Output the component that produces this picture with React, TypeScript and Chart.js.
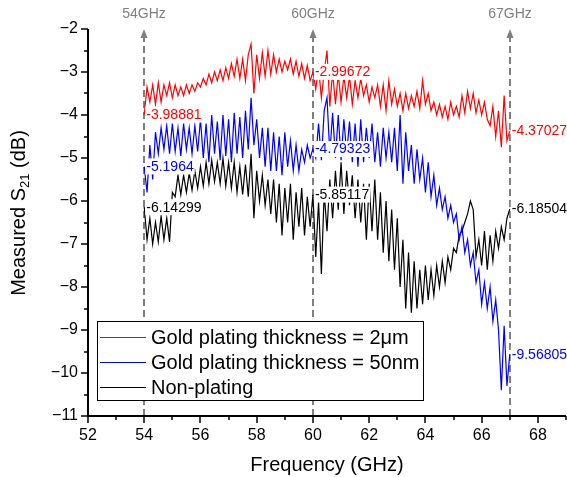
import React, { useEffect, useRef } from 'react';
import { Chart, registerables } from 'chart.js';

Chart.register(...registerables);

const FONT = "Arial, 'Liberation Sans', sans-serif";
const GRAY = '#7f7f7f';

const FREQ_GHZ = [
  54.0, 54.1, 54.2, 54.3, 54.4, 54.5, 54.6, 54.7, 54.8, 54.9,
  55.0, 55.1, 55.2, 55.3, 55.4, 55.5, 55.6, 55.7, 55.8, 55.9,
  56.0, 56.1, 56.2, 56.3, 56.4, 56.5, 56.6, 56.7, 56.8, 56.9,
  57.0, 57.1, 57.2, 57.3, 57.4, 57.5, 57.6, 57.7, 57.8, 57.9,
  58.0, 58.1, 58.2, 58.3, 58.4, 58.5, 58.6, 58.7, 58.8, 58.9,
  59.0, 59.1, 59.2, 59.3, 59.4, 59.5, 59.6, 59.7, 59.8, 59.9,
  60.0, 60.1, 60.2, 60.3, 60.4, 60.5, 60.6, 60.7, 60.8, 60.9,
  61.0, 61.1, 61.2, 61.3, 61.4, 61.5, 61.6, 61.7, 61.8, 61.9,
  62.0, 62.1, 62.2, 62.3, 62.4, 62.5, 62.6, 62.7, 62.8, 62.9,
  63.0, 63.1, 63.2, 63.3, 63.4, 63.5, 63.6, 63.7, 63.8, 63.9,
  64.0, 64.1, 64.2, 64.3, 64.4, 64.5, 64.6, 64.7, 64.8, 64.9,
  65.0, 65.1, 65.2, 65.3, 65.4, 65.5, 65.6, 65.7, 65.8, 65.9,
  66.0, 66.1, 66.2, 66.3, 66.4, 66.5, 66.6, 66.7, 66.8, 66.9,
  67.0,
];

const S21_GOLD_2UM = [
  -3.99, -3.35, -3.70, -3.30, -3.75, -3.25, -3.70, -3.30, -3.55, -3.25,
  -3.60, -3.30, -3.55, -3.35, -3.55, -3.30, -3.50, -3.30, -3.45, -3.25,
  -3.35, -3.15, -3.30, -3.05, -3.25, -3.00, -3.20, -2.95, -3.20, -2.90,
  -3.15, -2.80, -3.10, -2.70, -3.15, -2.70, -3.20, -2.60, -2.35, -3.50,
  -2.60, -3.15, -2.55, -3.10, -2.50, -3.05, -2.60, -3.00, -2.70, -3.00,
  -2.75, -2.95, -2.70, -3.05, -2.75, -3.10, -2.80, -3.15, -2.85, -3.20,
  -3.00, -3.40, -2.90, -3.60, -3.00, -2.50, -3.80, -3.00, -3.75, -3.05,
  -3.70, -3.10, -3.60, -3.10, -3.75, -3.20, -3.60, -3.15, -3.55, -3.30,
  -3.70, -3.35, -3.60, -3.30, -3.80, -3.30, -3.90, -3.20, -3.75, -3.40,
  -3.80, -3.50, -3.90, -3.50, -3.85, -3.55, -3.80, -3.45, -3.85, -3.20,
  -3.75, -3.50, -3.90, -3.70, -4.00, -3.75, -4.05, -3.80, -4.10, -3.70,
  -4.00, -3.80, -4.05, -3.55, -3.95, -3.45, -3.85, -3.50, -3.95, -3.65,
  -4.00, -3.70, -4.10, -4.25, -3.80, -4.50, -3.90, -4.75, -3.55, -4.60,
  -4.37,
];

const S21_GOLD_50NM = [
  -5.20, -5.80, -4.70, -5.50, -4.40, -4.90, -4.30, -4.80, -4.25, -4.90,
  -4.20, -4.85, -4.30, -4.95, -4.20, -4.80, -4.30, -4.90, -4.25, -4.85,
  -4.10, -5.00, -4.20, -5.10, -4.00, -4.90, -4.15, -5.05, -4.00, -4.95,
  -4.10, -5.10, -3.95, -4.90, -4.05, -5.00, -3.90, -4.80, -3.60, -4.70,
  -4.10, -5.00, -4.30, -5.20, -4.30, -5.30, -4.40, -5.30, -4.50, -5.40,
  -4.40, -5.20, -4.60, -5.30, -4.70, -5.30, -4.80, -5.10, -4.70, -5.00,
  -4.79, -5.00, -4.20, -5.05, -3.90, -3.60, -4.90, -3.95, -5.00, -4.00,
  -5.05, -4.10, -4.90, -4.15, -5.10, -4.20, -5.20, -4.10, -5.10, -4.30,
  -5.00, -4.20, -5.10, -4.40, -5.20, -4.30, -5.00, -4.40, -5.10, -4.30,
  -5.30, -4.00, -5.60, -4.40, -5.30, -4.70, -5.60, -4.80, -5.50, -5.00,
  -5.80, -5.10, -5.90, -5.40, -6.10, -5.70, -6.20, -5.90, -6.40, -6.10,
  -6.50, -6.30, -6.90, -6.60, -7.20, -6.90, -7.50, -7.20, -7.90, -7.60,
  -8.40, -7.90, -8.50, -8.00, -8.80, -8.30, -9.00, -10.40, -8.90, -10.30,
  -9.57,
];

const S21_NON_PLATING = [
  -6.14, -6.90, -6.40, -7.00, -6.50, -6.95, -6.35, -6.90, -6.40, -6.95,
  -5.80, -5.90, -5.40, -5.85, -5.40, -5.80, -5.35, -5.75, -5.30, -5.70,
  -5.20, -5.65, -5.10, -5.60, -5.05, -5.55, -5.10, -5.60, -5.00, -5.65,
  -5.10, -5.70, -5.10, -5.80, -5.20, -5.85, -5.15, -5.90, -4.90, -6.40,
  -5.30, -6.00, -5.40, -6.10, -5.50, -6.30, -5.50, -6.50, -5.60, -6.80,
  -5.70, -6.50, -5.60, -6.90, -5.80, -6.60, -5.70, -6.80, -5.90, -6.60,
  -5.85, -7.30, -6.00, -7.70, -5.80, -6.70, -5.50, -6.40, -5.30, -6.20,
  -5.10, -6.30, -5.30, -6.10, -5.40, -6.40, -5.50, -6.50, -5.60, -6.90,
  -5.60, -6.70, -5.50, -6.90, -5.80, -7.20, -6.00, -7.40, -6.20, -7.60,
  -6.40, -8.00, -6.90, -8.50, -7.20, -8.60, -7.40, -8.50, -7.60, -8.40,
  -7.50, -8.30, -7.60, -8.20, -7.50, -8.00, -7.40, -7.90, -7.30, -7.60,
  -7.10, -7.20, -6.80, -6.70, -6.50, -6.30, -6.00, -6.20, -7.30, -6.90,
  -7.50, -6.70, -7.60, -6.80, -7.40, -6.70, -7.10, -6.60, -6.90, -6.40,
  -6.19,
];

const SERIES_NAMES = [
  'Gold plating thickness = 2\u03bcm',
  'Gold plating thickness = 50nm',
  'Non-plating',
];
const SERIES_COLORS = ['#ff0000', '#0000ff', '#000000'];

const MARKER_FREQS = [54, 60, 67];
const MARKER_LABELS = ['54GHz', '60GHz', '67GHz'];
const READ_GOLD_2UM = [-3.98881, -2.99672, -4.37027];
const READ_GOLD_50NM = [-5.1964, -4.79323, -9.56805];
const READ_NON_PLATING = [-6.14299, -5.85117, -6.18504];

const X_MIN = 52;
const X_MAX = 69;
const Y_MIN = -11;
const Y_MAX = -2;
const X_MINOR_TICKS = [53, 55, 57, 59, 61, 63, 65, 67, 69];
const X_MAJOR_TICKS = [52, 54, 56, 58, 60, 62, 64, 66, 68];
const Y_MAJOR_TICKS = [-2, -3, -4, -5, -6, -7, -8, -9, -10, -11];
const Y_MINOR_TICKS = [-2.5, -3.5, -4.5, -5.5, -6.5, -7.5, -8.5, -9.5, -10.5];

const X_TITLE = 'Frequency (GHz)';

const overlayPlugin = {
  id: 'overlay',
  beforeDraw(chart: any) {
    const ctx = chart.ctx;
    ctx.save();
    ctx.fillStyle = '#ffffff';
    ctx.fillRect(0, 0, chart.width, chart.height);
    ctx.restore();
  },
  beforeDatasetsDraw(chart: any) {
    const ctx = chart.ctx;
    const xs = chart.scales.x;
    const ys = chart.scales.y;
    const bottom = ys.getPixelForValue(Y_MIN);
    const tipY = ys.getPixelForValue(Y_MAX);
    ctx.save();
    MARKER_FREQS.forEach((f, i) => {
      const px = Math.round(xs.getPixelForValue(f));
      ctx.strokeStyle = GRAY;
      ctx.lineWidth = 2;
      ctx.setLineDash([7, 4]);
      ctx.beginPath();
      ctx.moveTo(px, bottom);
      ctx.lineTo(px, tipY + 8);
      ctx.stroke();
      ctx.setLineDash([]);
      ctx.fillStyle = GRAY;
      ctx.beginPath();
      ctx.moveTo(px, tipY);
      ctx.lineTo(px - 3.5, tipY + 9);
      ctx.lineTo(px + 3.5, tipY + 9);
      ctx.closePath();
      ctx.fill();
      ctx.font = `14px ${FONT}`;
      ctx.textAlign = 'center';
      ctx.textBaseline = 'middle';
      ctx.fillText(MARKER_LABELS[i], px, 14);
    });
    ctx.restore();
  },
  afterDatasetsDraw(chart: any) {
    const ctx = chart.ctx;
    const xs = chart.scales.x;
    const ys = chart.scales.y;
    ctx.save();
    // data reader labels
    const reads = [READ_GOLD_2UM, READ_GOLD_50NM, READ_NON_PLATING];
    ctx.font = `14px ${FONT}`;
    ctx.textAlign = 'left';
    ctx.textBaseline = 'middle';
    reads.forEach((arr, si) => {
      arr.forEach((v, mi) => {
        const px = xs.getPixelForValue(MARKER_FREQS[mi]) + 1;
        const py = ys.getPixelForValue(v);
        const txt = String(v);
        const w = ctx.measureText(txt).width;
        ctx.fillStyle = '#ffffff';
        ctx.fillRect(px, py - 8, w + 2, 16);
        ctx.fillStyle = SERIES_COLORS[si];
        ctx.fillText(txt, px + 1, py + 0.5);
      });
    });

    // axes
    const x0 = xs.getPixelForValue(X_MIN);
    const x1 = xs.getPixelForValue(X_MAX);
    const y0 = ys.getPixelForValue(Y_MIN);
    const y1 = ys.getPixelForValue(Y_MAX);
    ctx.strokeStyle = '#000000';
    ctx.lineWidth = 2;
    ctx.beginPath();
    ctx.moveTo(x0, y1);
    ctx.lineTo(x0, y0 + 1);
    ctx.moveTo(x0 - 1, y0);
    ctx.lineTo(x1, y0);
    ctx.stroke();
    ctx.lineWidth = 1.5;
    ctx.beginPath();
    X_MAJOR_TICKS.forEach((t) => {
      const p = Math.round(xs.getPixelForValue(t));
      ctx.moveTo(p, y0);
      ctx.lineTo(p, y0 + 7);
    });
    X_MINOR_TICKS.forEach((t) => {
      const p = Math.round(xs.getPixelForValue(t));
      ctx.moveTo(p, y0);
      ctx.lineTo(p, y0 + 4);
    });
    Y_MAJOR_TICKS.forEach((t) => {
      const p = Math.round(ys.getPixelForValue(t));
      ctx.moveTo(x0, p);
      ctx.lineTo(x0 - 7, p);
    });
    Y_MINOR_TICKS.forEach((t) => {
      const p = Math.round(ys.getPixelForValue(t));
      ctx.moveTo(x0, p);
      ctx.lineTo(x0 - 4, p);
    });
    ctx.stroke();

    // legend box
    ctx.fillStyle = '#ffffff';
    ctx.fillRect(97.5, 321.5, 326, 79);
    ctx.strokeStyle = '#000000';
    ctx.lineWidth = 1;
    ctx.strokeRect(97.5, 321.5, 326, 79);
    const rows = [337, 362, 387];
    ctx.font = `20px ${FONT}`;
    ctx.textAlign = 'left';
    ctx.textBaseline = 'middle';
    SERIES_NAMES.forEach((name, i) => {
      ctx.strokeStyle = SERIES_COLORS[i];
      ctx.lineWidth = 1;
      ctx.beginPath();
      ctx.moveTo(100, rows[i] + 0.5);
      ctx.lineTo(146, rows[i] + 0.5);
      ctx.stroke();
      ctx.fillStyle = '#000000';
      ctx.fillText(name, 151, rows[i] + 1);
    });

    // x title
    ctx.font = `20px ${FONT}`;
    ctx.textAlign = 'center';
    ctx.fillText(X_TITLE, (x0 + x1) / 2, 465);

    // y title with subscript
    ctx.save();
    ctx.translate(19, 213);
    ctx.rotate(-Math.PI / 2);
    const p1 = 'Measured S';
    const p2 = '21';
    const p3 = ' (dB)';
    ctx.font = `20px ${FONT}`;
    const w1 = ctx.measureText(p1).width;
    const w3 = ctx.measureText(p3).width;
    ctx.font = `13px ${FONT}`;
    const w2 = ctx.measureText(p2).width;
    const total = w1 + w2 + w3;
    let sx = -total / 2;
    ctx.textAlign = 'left';
    ctx.textBaseline = 'middle';
    ctx.fillStyle = '#000000';
    ctx.font = `20px ${FONT}`;
    ctx.fillText(p1, sx, 0);
    sx += w1;
    ctx.font = `13px ${FONT}`;
    ctx.fillText(p2, sx, 6);
    sx += w2;
    ctx.font = `20px ${FONT}`;
    ctx.fillText(p3, sx, 0);
    ctx.restore();

    ctx.restore();
  },
};

export default function App() {
  const canvasRef = useRef<HTMLCanvasElement | null>(null);

  useEffect(() => {
    const canvas = canvasRef.current;
    if (!canvas) return;
    const makeData = (vals: number[]) => FREQ_GHZ.map((f, i) => ({ x: f, y: vals[i] }));
    const seriesVals = [S21_GOLD_2UM, S21_GOLD_50NM, S21_NON_PLATING];
    const chart = new Chart(canvas, {
      type: 'line',
      data: {
        datasets: seriesVals.map((vals, i) => ({
          label: SERIES_NAMES[i],
          data: makeData(vals),
          borderColor: SERIES_COLORS[i],
          backgroundColor: SERIES_COLORS[i],
          borderWidth: 1.2,
          pointRadius: 0,
          tension: 0,
          fill: false,
        })),
      },
      options: {
        responsive: false,
        animation: false,
        devicePixelRatio: 1,
        layout: { padding: { top: 29, right: 1, bottom: 0, left: 0 } },
        plugins: {
          legend: { display: false },
          tooltip: { enabled: false },
          title: { display: false },
        },
        scales: {
          x: {
            type: 'linear',
            min: X_MIN,
            max: X_MAX,
            grid: { display: false, drawTicks: false },
            border: { display: false },
            ticks: {
              stepSize: 2,
              includeBounds: false,
              color: '#000000',
              padding: 10,
              font: { family: FONT, size: 16 },
              maxRotation: 0,
            },
            afterFit: (s: any) => {
              s.height = 61;
            },
          },
          y: {
            type: 'linear',
            min: Y_MIN,
            max: Y_MAX,
            grid: { display: false, drawTicks: false },
            border: { display: false },
            ticks: {
              stepSize: 1,
              color: '#000000',
              padding: 10,
              font: { family: FONT, size: 16 },
              callback: (v: any) => String(v).replace('-', '\u2212'),
            },
            afterFit: (s: any) => {
              s.width = 88;
            },
          },
        },
      },
      plugins: [overlayPlugin],
    });
    return () => chart.destroy();
  }, []);

  return (
    <div style={{ position: 'fixed', left: 0, top: 0, width: 567, height: 477, background: '#fff' }}>
      <canvas ref={canvasRef} width={567} height={477} style={{ display: 'block', width: 567, height: 477 }} />
    </div>
  );
}
